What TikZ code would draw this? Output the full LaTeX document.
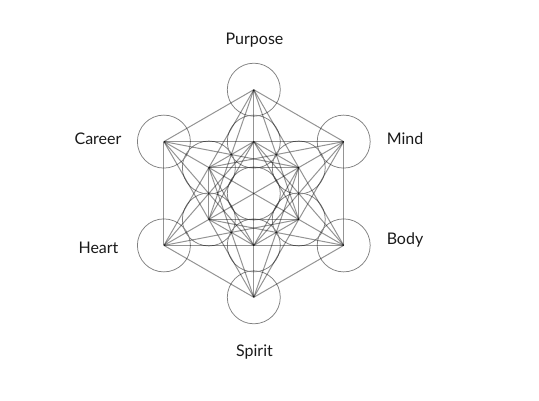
\documentclass[tikz,border=0pt]{standalone}
\usepackage{fontspec}
\setmainfont{Lato}
\tikzset{
  ringc/.style={circle,draw=black!50,line width=0.75pt,minimum size=53pt,inner sep=0pt,outer sep=0pt},
  link/.style={draw=black,line width=1pt,opacity=0.42},
  lab/.style={font=\fontsize{16}{19}\selectfont,text=black!90,inner sep=0pt}
}
\begin{document}
\begin{tikzpicture}[x=1pt,y=-1pt]
\useasboundingbox (0,0) rectangle (539,401);
\def\cx{253.8}\def\cy{193.5}
\node[ringc] (n0) at (\cx,\cy) {};
\foreach \i in {1,...,6}{
  \pgfmathsetmacro\a{30+60*\i}
  \node[ringc] (n\i) at ({\cx+51.9*cos(\a)},{\cy-51.9*sin(\a)}) {};
  \pgfmathtruncatemacro\j{\i+6}
  \node[ringc] (n\j) at ({\cx+103.8*cos(\a)},{\cy-103.8*sin(\a)}) {};
}
% the outer points, all pairs (these lines run through the collinear inner points)
\foreach \i in {7,...,12}{
  \foreach \j in {7,...,12}{
    \ifnum\i<\j
      \path[link] (n\i.center) -- (n\j.center);
    \fi
  }
}
\foreach \i in {1,...,6}{
  \pgfmathtruncatemacro\p{mod(\i,6)+1}
  \pgfmathtruncatemacro\q{mod(\i+1,6)+1}
  \pgfmathtruncatemacro\r{mod(\i+1,6)+7}
  \pgfmathtruncatemacro\s{mod(\i+3,6)+7}
  \path[link] (n\i.center) -- (n\p.center);
  \path[link] (n\i.center) -- (n\q.center);
  \path[link] (n\i.center) -- (n\r.center);
  \path[link] (n\i.center) -- (n\s.center);
}
\node[lab] (purpose) at (254.5,40) {Purpose};
\node[lab] (career) at (98,138.3) {Career};
\node[lab] (mind) at (405,138.3) {Mind};
\node[lab] (heart) at (98.5,248.3) {Heart};
\node[lab] (body) at (405,240) {Body};
\node[lab] (spirit) at (254.5,352) {Spirit};
\end{tikzpicture}
\end{document}
